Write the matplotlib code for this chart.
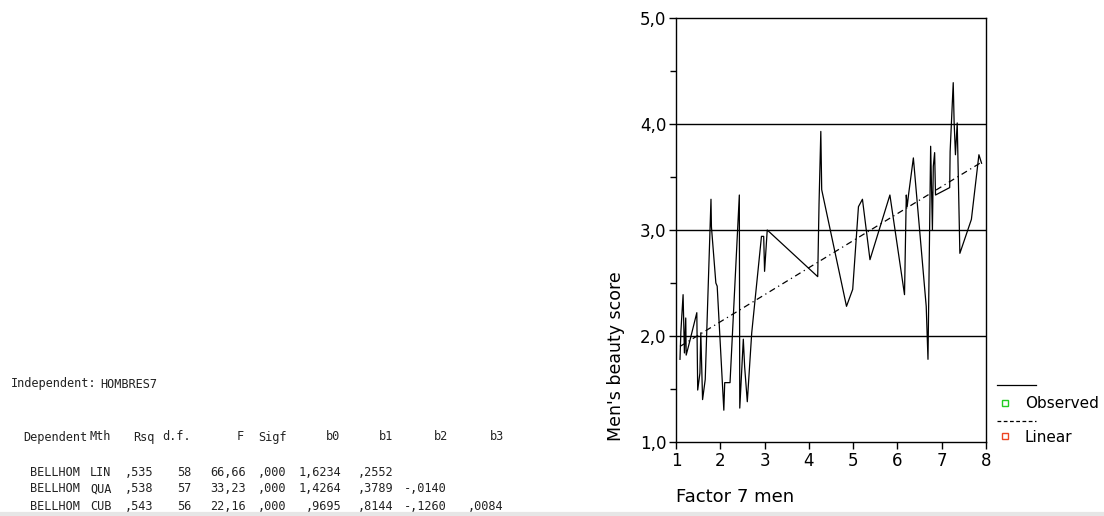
import matplotlib
matplotlib.use("Agg")
import matplotlib.pyplot as plt
from matplotlib.ticker import MultipleLocator, FuncFormatter
from matplotlib.lines import Line2D
import numpy as np

# observed men's beauty score vs factor 7
factor7 = [1.09, 1.11, 1.16, 1.19, 1.22, 1.23, 1.28, 1.47, 1.49, 1.54, 1.56, 1.60,
           1.66, 1.79, 1.80, 1.90, 1.93, 2.08, 2.10, 2.22, 2.43, 2.44, 2.52, 2.55,
           2.61, 2.71, 2.93, 2.98, 3.00, 3.06, 4.20, 4.23, 4.27, 4.29, 4.85, 4.99,
           5.12, 5.21, 5.38, 5.83, 6.16, 6.20, 6.22, 6.25, 6.36, 6.65, 6.69, 6.75,
           6.79, 6.81, 6.84, 6.86, 7.18, 7.19, 7.26, 7.28, 7.31, 7.35, 7.41, 7.67,
           7.84, 7.90]
beauty = [1.78, 2.04, 2.39, 1.84, 2.17, 1.82, 1.90, 2.22, 1.49, 1.65, 2.03, 1.40,
          1.59, 3.29, 3.03, 2.50, 2.47, 1.30, 1.56, 1.56, 3.33, 1.32, 1.97, 1.71,
          1.38, 2.03, 2.94, 2.94, 2.61, 3.00, 2.56, 3.25, 3.93, 3.38, 2.28, 2.44,
          3.22, 3.29, 2.72, 3.33, 2.39, 3.33, 3.22, 3.33, 3.68, 2.28, 1.78, 3.79,
          3.00, 3.60, 3.73, 3.33, 3.40, 3.74, 4.39, 4.02, 3.71, 4.01, 2.78, 3.10,
          3.71, 3.63]

# linear fit coefficients
b0_lin = 1.6234
b1_lin = 0.2552

# SPSS output table
header = ["Dependent", "Mth", "Rsq", "d.f.", "F", "Sigf", "b0", "b1", "b2", "b3"]
dep = ["BELLHOM", "BELLHOM", "BELLHOM"]
mth = ["LIN", "QUA", "CUB"]
rsq = [",535", ",538", ",543"]
dfs = ["58", "57", "56"]
fval = ["66,66", "33,23", "22,16"]
sigf = [",000", ",000", ",000"]
b0 = ["1,6234", "1,4264", ",9695"]
b1 = [",2552", ",3789", ",8144"]
b2 = ["", "-,0140", "-,1260"]
b3 = ["", "", ",0084"]

W, H = 1104, 516
fig = plt.figure(figsize=(W / 100, H / 100), dpi=100)

def fx(px):
    return px / W

def fy(py):
    return 1 - py / H

ax = fig.add_axes([fx(676), fy(442), fx(986) - fx(676), fy(18) - fy(442)])

ax.plot(factor7, beauty, color="black", lw=0.9)
xs = np.array([min(factor7), max(factor7)])
ax.plot(xs, b0_lin + b1_lin * xs, color="black", lw=0.9, ls=(0, (5, 3, 1, 3)))

ax.set_xlim(1, 8)
ax.set_ylim(1, 5)
for yv in [2, 3, 4]:
    ax.axhline(yv, color="black", lw=1, zorder=0)

ax.yaxis.set_major_locator(MultipleLocator(1))
ax.yaxis.set_minor_locator(MultipleLocator(0.5))
ax.yaxis.set_major_formatter(FuncFormatter(lambda v, p: f"{v:.1f}".replace(".", ",")))
ax.xaxis.set_major_locator(MultipleLocator(1))
ax.tick_params(axis="both", which="major", direction="out", length=5, width=1,
               labelsize=12, pad=2)
ax.tick_params(axis="y", which="minor", direction="out", length=4, width=1)
for s in ax.spines.values():
    s.set_linewidth(1)

ax.set_ylabel("Men's beauty score", fontsize=12.5)
ax.yaxis.set_label_coords(-0.165, 0.203)
fig.text(fx(676), fy(497), "Factor 7 men", fontsize=13, ha="left", va="center")

# legend drawn by hand to the right of the axes
fig.add_artist(Line2D([fx(997), fx(1036)], [fy(385), fy(385)], color="black", lw=0.9))
fig.add_artist(Line2D([fx(1005)], [fy(403)], marker="s", ms=4, mfc="white",
                      mec="#22cc22", mew=1, ls="none"))
fig.text(fx(1025), fy(404), "Observed", fontsize=11, va="center", ha="left")
fig.add_artist(Line2D([fx(997), fx(1036)], [fy(421), fy(421)], color="black", lw=0.9,
                      ls=(0, (3, 2))))
fig.add_artist(Line2D([fx(1005)], [fy(436)], marker="s", ms=4, mfc="white",
                      mec="#ee4422", mew=1, ls="none"))
fig.text(fx(1025), fy(437), "Linear", fontsize=11, va="center", ha="left")

# text output on the left
mono = dict(family="DejaVu Sans Mono", fontsize=8.6, color="#222222", va="center")
fig.text(fx(11), fy(384), "Independent:", ha="left", **mono)
fig.text(fx(157), fy(384), "HOMBRES7", ha="right", **mono)

hdr_x = [23, 89, 155, 191, 244, 287, 340, 393, 448, 504]
hdr_align = ["left", "left", "right", "right", "right", "right", "right", "right", "right", "right"]
for t, x, a in zip(header, hdr_x, hdr_align):
    fig.text(fx(x), fy(437), t, ha=a, **mono)

row_y = [472, 489, 506]
cols = [(dep, 30, "left"), (mth, 90, "left"), (rsq, 153, "right"), (dfs, 191, "right"),
        (fval, 246, "right"), (sigf, 286, "right"), (b0, 341, "right"),
        (b1, 393, "right"), (b2, 447, "right"), (b3, 503, "right")]
for vals, x, a in cols:
    for v, y in zip(vals, row_y):
        if v:
            fig.text(fx(x), fy(y), v, ha=a, **mono)

# thin grey band at the bottom edge
fig.add_artist(Line2D([0, 1], [fy(514), fy(514)], color="#e6e6e6", lw=3))

fig.savefig("out.png", dpi=100)
